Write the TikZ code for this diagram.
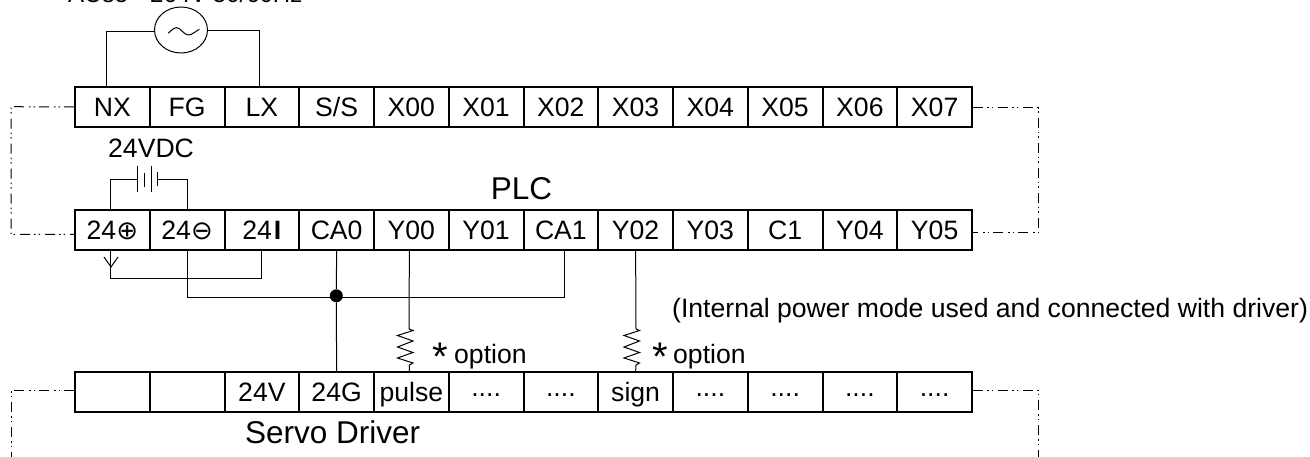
\documentclass[tikz,border=0pt]{standalone}
\usepackage{fontspec}
\setmainfont{Liberation Sans}
\newfontfamily\symfont{DejaVu Sans}
\usetikzlibrary{shapes.geometric}
\newcommand{\fs}[1]{\fontsize{#1}{#1}\selectfont}
\newcommand{\ckt}[1]{{\symfont\fs{26}\raisebox{0pt}{#1}}}
\newcommand{\rdots}{\raisebox{5.5pt}{....}}
\tikzset{
  cell/.style={draw,line width=2pt,minimum width=74.75pt,minimum height=40pt,inner sep=0pt,
    text height=20pt,text depth=1.5pt,font=\fs{26.6},anchor=center},
  wire/.style={line width=1pt},
  boxline/.style={line width=1pt,dash pattern=on 10pt off 4pt on 1.5pt off 3pt on 1.5pt off 5pt},
  lbl/.style={inner sep=0pt,anchor=base west,font=\fs{26.6}},
}
\begin{document}
\begin{tikzpicture}[x=1pt,y=-1pt]
\useasboundingbox (0,0) rectangle (1310,457);
% rows of terminals
\foreach \n/\t [count=\i from 0] in {nx/NX,fg/FG,lx/LX,ss/S\slash S,xa/X00,xb/X01,xc/X02,xd/X03,xe/X04,xf/X05,xg/X06,xh/X07}
  \node[cell] (\n) at ({75+74.75*(\i+0.5)},107) {\t};
\foreach \n/\t [count=\i from 0] in {pa/24\ckt{⊕},pb/24\ckt{⊖},pc/24\hspace{2pt}\textbf{I},caa/CA0,ya/Y00,yb/Y01,cab/CA1,yc/Y02,yd/Y03,co/C1,ye/Y04,yf/Y05}
  \node[cell] (\n) at ({75+74.75*(\i+0.5)},229.8) {\t};
\foreach \n/\t [count=\i from 0] in {da/{},db/{},dv/24V,dg/24G,dp/pulse,dd/\rdots,de/\rdots,ds/sign,df/\rdots,dh/\rdots,di/\rdots,dj/\rdots}
  \node[cell] (\n) at ({75+74.75*(\i+0.5)},392.3) {\t};
% labels
\node[lbl,font=\fs{24}] (title) at (68,3) {AC85\hspace{4pt}\textasciitilde\hspace{4pt}264V 50/60Hz};
\node[lbl] (vdc) at (108,158) {24VDC};
\node[lbl,font=\fs{31.5}] (plc) at (490.7,200) {PLC};
\node[lbl] (note) at (672,317) {(Internal power mode used and connected with driver)};
\node[lbl,font=\fs{31.5}] (servo) at (245,443) {Servo Driver};
\node[lbl,font=\fs{40}] (stara) at (432,370) {*};
\node[lbl] (opta) at (454,363) {option};
\node[lbl,font=\fs{40}] (starb) at (652,370) {*};
\node[lbl] (optb) at (673,363) {option};
% AC source
\node[draw,ellipse,line width=1pt,minimum width=53pt,minimum height=46pt,inner sep=0pt] (ac) at (181,30) {};
\draw[wire] (168.3,33.3) .. controls (171.5,30) and (174,27.7) .. (176.7,27.7)
  .. controls (180.5,27.7) and (184,35) .. (188.3,35) .. controls (192,35) and (196,31) .. (199.3,29.3);
\draw[wire] ([yshift=-2pt]ac.west) -| ([xshift=-6pt]nx.north);
\draw[wire] ([yshift=-1pt]ac.east) -| ([xshift=-2pt]lx.north);
% battery
\coordinate (bp) at (137.7,179.3);
\coordinate (bn) at (157.7,179.3);
\draw[wire] (bp) ++(0,-13.3) -- ++(0,26);
\draw[wire] (144.3,173) -- (144.3,187);
\draw[wire] (151,166) -- (151,192);
\draw[wire] (bn) ++(0,-7) -- ++(0,14);
\draw[wire] (bp) -| ([xshift=-1.4pt]pa.north);
\draw[wire] (bn) -| (pb.north);
% lower wiring
\coordinate (jog) at (0,278.7);
\draw[wire] ([xshift=-1.4pt]pa.south) -- ([xshift=-1.4pt]pa.south |- jog) -| (pc.south);
\draw[wire] (104,257) -- (111,267) -- (118,257);
\node[circle,fill=black,minimum size=13pt,inner sep=0pt] (dot) at (336.3,295.8) {};
\coordinate (bus) at (0,297.7);
\draw[wire] (pb.south) -- (pb.south |- bus) -- ([xshift=4pt]cab.south |- bus) -- ([xshift=4pt]cab.south);
\draw[wire] (caa.south) -- (dot) -- (dg.north);
% resistors
\draw[wire] ([xshift=-2pt]ya.south) -- (409,329) -- (413,330.5) -- (397.5,335.5) -- (413,341) -- (397.5,347) -- (413,352.5) -- (397.5,358) -- (413,363) -- (409.5,365) -- ([xshift=-2pt]dp.north);
\draw[wire] (yc.south) -- (636,329) -- (639.5,330.5) -- (624,335.5) -- (639.5,341) -- (624,347) -- (639.5,352.5) -- (624,358) -- (639.5,363) -- (636,365) -- (ds.north);
% dash-dot box lines
\coordinate (lt) at (11,106.7);
\coordinate (lb) at (11,234.5);
\coordinate (rt) at (1038,108);
\coordinate (rb) at (1038,233);
\coordinate (ldt) at (11,390);
\coordinate (ldb) at (11,457);
\coordinate (rdt) at (1038,390);
\coordinate (rdb) at (1038,457);
\draw[boxline] (nx.west) -- (lt) -- (lb) -- (pa.west |- lb);
\draw[boxline] (xh.east |- rt) -- (rt) -- (rb) -- (yf.east |- rb);
\draw[boxline] (da.west |- ldt) -- (ldt) -- (ldb);
\draw[boxline] (dj.east |- rdt) -- (rdt) -- (rdb);
\end{tikzpicture}
\end{document}
